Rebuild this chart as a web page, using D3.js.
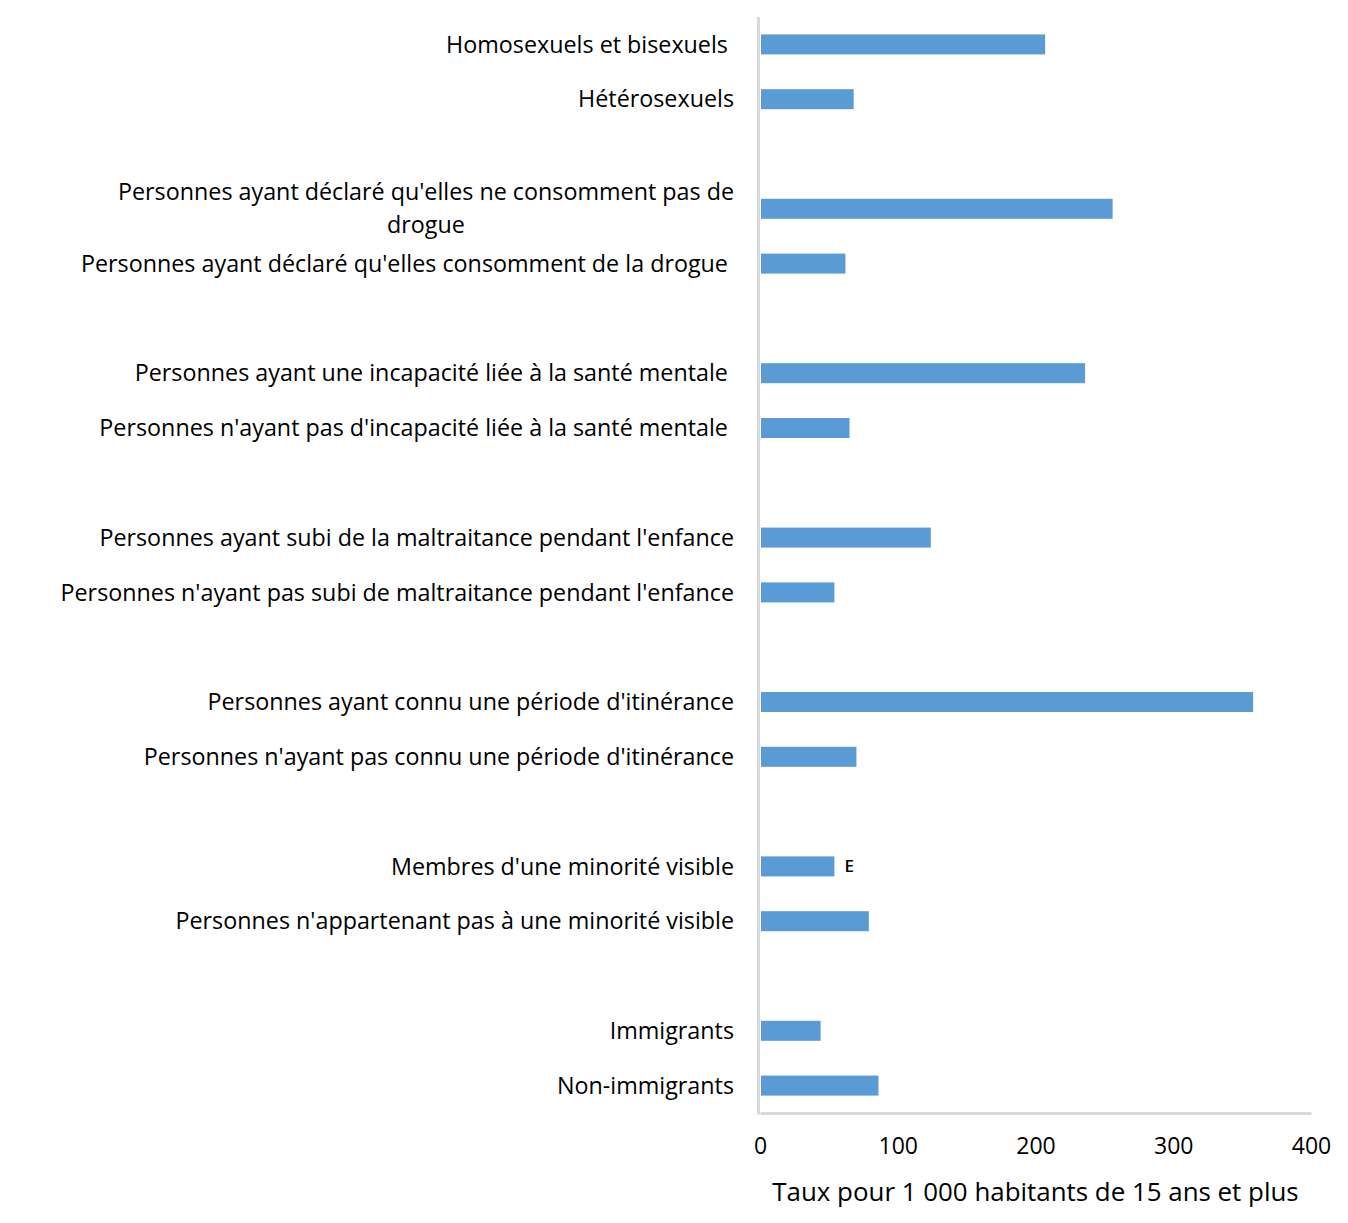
<!DOCTYPE html>
<html lang="fr">
<head>
<meta charset="utf-8">
<script src="https://cdn.jsdelivr.net/npm/d3@7"></script>
<style>
  body { margin: 0; background: #fff; }
  #chart { width: 1348px; height: 1223px; }
  text { font-family: "Open Sans", sans-serif; fill: #000; }
</style>
</head>
<body>
<div id="chart"></div>
<script>
// Categories (null = empty slot between groups)
const categories = [
  "Homosexuels et bisexuels\u00a0",
  "Hétérosexuels",
  null,
  "Personnes ayant déclaré qu'elles ne consomment pas de drogue",
  "Personnes ayant déclaré qu'elles consomment de la drogue\u00a0",
  null,
  "Personnes ayant une incapacité liée à la santé mentale\u00a0",
  "Personnes n'ayant pas d'incapacité liée à la santé mentale\u00a0",
  null,
  "Personnes ayant subi de la maltraitance pendant l'enfance",
  "Personnes n'ayant pas subi de maltraitance pendant l'enfance",
  null,
  "Personnes ayant connu une période d'itinérance",
  "Personnes n'ayant pas connu une période d'itinérance",
  null,
  "Membres d'une minorité visible",
  "Personnes n'appartenant pas à une minorité visible",
  null,
  "Immigrants",
  "Non-immigrants",
];

// Rate per 1 000 population aged 15+
const values = [207, 68, null, 256, 62, null, 236, 65, null, 124, 54, null, 358, 70, null, 54, 79, null, 44, 86];

// Quality flags
const flags = ["", "", "", "", "", "", "", "", "", "", "", "", "", "", "", "E", "", "", "", ""];

const xTicks = [0, 100, 200, 300, 400];
const xTitle = "Taux pour 1 000 habitants de 15 ans et plus";

const container = document.getElementById("chart");
const width = 1348;
const height = 1223;
const margin = { top: 17, right: 37, bottom: 110, left: 760 };

const rows = categories.map((label, i) => ({ i, label, value: values[i], flag: flags[i] }));

const x = d3
  .scaleLinear()
  .domain([0, 400])
  .range([margin.left, width - margin.right]);

const y = d3
  .scaleBand()
  .domain(rows.map((d) => d.i))
  .range([margin.top, height - margin.bottom])
  .paddingInner(0.635)
  .paddingOuter(0.3175);

const svg = d3
  .create("svg")
  .attr("width", width)
  .attr("height", height)
  .attr("viewBox", [0, 0, width, height]);

// Append early so text can be measured
container.appendChild(svg.node());

// Bars
svg
  .append("g")
  .attr("fill", "#5b9bd5")
  .selectAll("rect")
  .data(rows.filter((d) => d.value != null))
  .join("rect")
  .attr("x", x(0) + 1)
  .attr("y", (d) => y(d.i))
  .attr("width", (d) => x(d.value) - x(0) - 1)
  .attr("height", y.bandwidth());

// Flags (E)
svg
  .append("g")
  .selectAll("text")
  .data(rows.filter((d) => d.flag))
  .join("text")
  .attr("x", (d) => x(d.value) + 10)
  .attr("y", (d) => y(d.i) + y.bandwidth() / 2)
  .attr("dy", "0.35em")
  .attr("font-size", 17)
  .attr("font-weight", 600)
  .text((d) => d.flag);

// Axis lines
svg
  .append("g")
  .attr("transform", `translate(0,${height - margin.bottom})`)
  .call(d3.axisBottom(x).tickValues(xTicks).tickSize(0).tickPadding(25))
  .call((g) => g.select(".domain").attr("stroke", "#d9d9d9").attr("stroke-width", 3))
  .call((g) => g.selectAll(".tick text").attr("font-size", 23).attr("font-family", "Open Sans"));

svg
  .append("line")
  .attr("x1", x(0) - 1.5)
  .attr("x2", x(0) - 1.5)
  .attr("y1", margin.top)
  .attr("y2", height - margin.bottom + 1.5)
  .attr("stroke", "#d9d9d9")
  .attr("stroke-width", 3);

// Axis title
svg
  .append("text")
  .attr("x", (x(0) + x(400)) / 2)
  .attr("y", 1192)
  .attr("dy", "0.35em")
  .attr("text-anchor", "middle")
  .attr("font-size", 25.9)
  .text(xTitle);

// Category labels, wrapped and centered on the label block
const labelRight = 734;
const wrapWidth = 695;
const lineHeight = 33;

const labels = svg
  .append("g")
  .attr("font-size", 23.3)
  .selectAll("text")
  .data(rows.filter((d) => d.label))
  .join("text")
  .attr("text-anchor", "middle");

labels.each(function (d) {
  const text = d3.select(this);
  const words = d.label.split(" ");
  const lines = [];
  let line = [];
  const probe = text.append("tspan");
  words.forEach((w) => {
    line.push(w);
    probe.text(line.join(" "));
    if (probe.node().getComputedTextLength() > wrapWidth && line.length > 1) {
      line.pop();
      lines.push(line.join(" "));
      line = [w];
    }
  });
  lines.push(line.join(" "));
  const widths = lines.map((l) => {
    probe.text(l);
    return probe.node().getComputedTextLength();
  });
  probe.remove();

  const cx = labelRight - d3.max(widths) / 2;
  const cy = y(d.i) + y.bandwidth() / 2;
  const top = cy - ((lines.length - 1) * lineHeight) / 2;
  lines.forEach((l, k) => {
    text
      .append("tspan")
      .attr("x", cx)
      .attr("y", top + k * lineHeight)
      .attr("dy", "0.35em")
      .text(l);
  });
});
</script>
</body>
</html>
